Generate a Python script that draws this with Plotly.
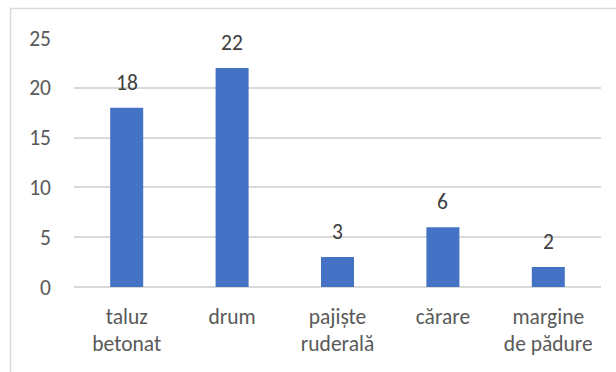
import plotly.graph_objects as go

# Habitat categories and counts
categories = ["taluz<br>betonat", "drum", "pajiște<br>ruderală", "cărare", "margine<br>de pădure"]
counts = [18, 22, 3, 6, 2]
y_ticks = [0, 5, 10, 15, 20, 25]

BAR_COLOR = "#4472C4"
TEXT_COLOR = "#595959"
GRID_COLOR = "#D9D9D9"
FONT = "Calibri, Carlito, Lato, sans-serif"
FONT_SIZE = 21.5

fig = go.Figure(
    go.Bar(
        x=categories,
        y=counts,
        marker=dict(color=BAR_COLOR, line=dict(width=0)),
        hoverinfo="x+y",
    )
)

# Value labels above each bar
for cat, val in zip(categories, counts):
    fig.add_annotation(
        x=cat, y=val, text=str(val), showarrow=False,
        yanchor="bottom", yshift=10,
        font=dict(family=FONT, size=FONT_SIZE, color="#404040"),
    )

# Chart-area border (light gray frame)
fig.add_shape(
    type="rect", xref="paper", yref="paper",
    x0=-0.1205, x1=1.08, y0=-0.4, y1=1.118,
    line=dict(color=GRID_COLOR, width=1.5), fillcolor="rgba(0,0,0,0)",
)

fig.update_layout(
    width=616, height=372,
    margin=dict(l=74, r=15, t=38, b=84.5),
    paper_bgcolor="white", plot_bgcolor="white",
    bargap=0.687,
    showlegend=False,
    font=dict(family=FONT, size=FONT_SIZE, color=TEXT_COLOR),
    xaxis=dict(
        showline=False, showgrid=False, ticks="", ticklabelstandoff=14,
        tickfont=dict(family=FONT, size=FONT_SIZE, color=TEXT_COLOR),
    ),
    yaxis=dict(
        range=[0, 25], tickvals=y_ticks, showgrid=True,
        gridcolor=GRID_COLOR, gridwidth=1.5,
        zeroline=True, zerolinecolor=GRID_COLOR, zerolinewidth=1.5,
        showline=False, ticks="", ticklabelstandoff=22,
        tickfont=dict(family=FONT, size=FONT_SIZE, color=TEXT_COLOR),
    ),
)

fig.write_html("out.html")
